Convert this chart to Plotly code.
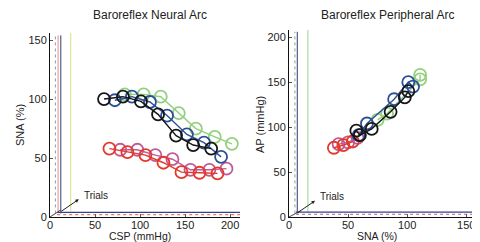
import plotly.graph_objects as go
from plotly.subplots import make_subplots

# ---- Left: Baroreflex Neural Arc (SNA vs CSP) ----
neural_black_csp = [60, 81, 101, 120, 140, 159, 179]
neural_black_sna = [100, 102, 98, 87, 69, 61, 58]
neural_blue_csp = [72, 91, 111, 130, 152, 171, 190]
neural_blue_sna = [99, 102, 97.5, 86, 70, 63, 51]
neural_green_csp = [83, 104, 123, 143, 162, 183, 202]
neural_green_sna = [104, 104, 102, 88, 75, 68, 62]
neural_red_csp = [66, 86, 106, 126, 146, 166, 186]
neural_red_sna = [58, 55, 52.5, 46, 38, 37.5, 37]
neural_mag_csp = [78, 97, 117, 136, 156, 177, 196]
neural_mag_sna = [57, 57, 52.5, 49, 40, 40, 41]

# ---- Right: Baroreflex Peripheral Arc (AP vs SNA) ----
periph_red_sna = [38, 46, 54]
periph_red_ap = [77, 80, 84]
periph_mag_sna = [42, 50, 58]
periph_mag_ap = [81, 83, 88]
periph_green_sna = [75, 83, 111, 111]
periph_green_ap = [108, 115, 153, 158]
periph_blue_sna = [59, 66, 89, 101, 105]
periph_blue_ap = [91, 104, 131, 150, 145]
periph_black_sna = [57, 60, 70, 86, 98, 101]
periph_black_ap = [96, 91, 98, 117, 133, 140]

C_BLACK = "#151515"
C_BLUE = "#2d4f98"
C_GREEN = "#93d07e"
C_RED = "#e2392b"
C_MAG = "#c05a95"

fig = make_subplots(rows=1, cols=2)


def add_series(x, y, color, col):
    fig.add_trace(go.Scatter(
        x=x, y=y, mode="lines+markers",
        line=dict(color=color, width=1.4),
        marker=dict(symbol="circle-open", size=12, color=color, line=dict(width=1.8, color=color)),
        showlegend=False, cliponaxis=False), row=1, col=col)


add_series(neural_green_csp, neural_green_sna, C_GREEN, 1)
add_series(neural_mag_csp, neural_mag_sna, C_MAG, 1)
add_series(neural_blue_csp, neural_blue_sna, C_BLUE, 1)
add_series(neural_red_csp, neural_red_sna, C_RED, 1)
add_series(neural_black_csp, neural_black_sna, C_BLACK, 1)

add_series(periph_green_sna, periph_green_ap, C_GREEN, 2)
add_series(periph_mag_sna, periph_mag_ap, C_MAG, 2)
add_series(periph_red_sna, periph_red_ap, C_RED, 2)
add_series(periph_blue_sna, periph_blue_ap, C_BLUE, 2)
add_series(periph_black_sna, periph_black_ap, C_BLACK, 2)

W, H = 472, 234   # page body adds an 8px offset
OFF = 8
font = dict(family="Liberation Sans, Arial, sans-serif", size=11, color="#222")


def fx(px):
    return (px - OFF) / W


def fy(py):
    return 1 - (py - OFF) / H


axis_common = dict(showline=True, linecolor="#111", linewidth=1, showgrid=False,
                   zeroline=False, ticks="inside", ticklen=3, tickcolor="#555",
                   tickfont=font, automargin=False)

fig.update_xaxes(axis_common)
fig.update_yaxes(axis_common)
fig.update_xaxes(ticklabelstandoff=-2)
fig.update_xaxes(range=[0, 211], tickvals=[0, 50, 100, 150, 200],
                 domain=[fx(50), fx(240)], row=1, col=1)
fig.update_yaxes(range=[0, 156], tickvals=[0, 50, 100, 150],
                 domain=[fy(217), fy(33)], row=1, col=1)
fig.update_xaxes(range=[0, 160], tickvals=[0, 50, 100, 150],
                 domain=[fx(289), fx(478)], row=1, col=2)
fig.update_yaxes(range=[0, 208], tickvals=[0, 50, 100, 150, 200],
                 domain=[fy(217), fy(30)], row=1, col=2)

shapes = []


def vline(xr, yr, x, y0, y1, color, dash="solid", w=1):
    shapes.append(dict(type="line", xref=xr, yref=yr, x0=x, x1=x, y0=y0, y1=y1,
                       line=dict(color=color, width=w, dash=dash), layer="below"))


def hline(xr, yr, y, x0, x1, color, dash="solid", w=1):
    shapes.append(dict(type="line", xref=xr, yref=yr, x0=x0, x1=x1, y0=y, y1=y,
                       line=dict(color=color, width=w, dash=dash), layer="below"))


# left faux-3D trial planes
vline("x", "y", 6, 3, 154, "#999", "dot")
vline("x", "y", 9, 3, 154, "#e58a8a")
vline("x", "y", 12, 3, 154, "#30406e")
vline("x", "y", 23, 5, 156, "#d9e08a")
hline("x", "y", 4, 8, 211, "#3b3f8a", w=1.2)
hline("x", "y", 2, 8, 211, "#e07a6a", "dot", w=1.2)
shapes.append(dict(type="line", xref="x", yref="y", x0=0, y0=0, x1=12, y1=6,
                   line=dict(color="#444", width=1)))
# right faux-3D trial planes
vline("x2", "y2", 5, 4, 206, "#999", "dot")
vline("x2", "y2", 7, 4, 206, "#2b3c78")
vline("x2", "y2", 16, 5, 208, "#8fd88f")
hline("x2", "y2", 5.5, 6, 160, "#3b3f8a", w=1.2)
hline("x2", "y2", 3, 6, 160, "#c97aa0", "dot", w=1.2)
shapes.append(dict(type="line", xref="x2", yref="y2", x0=0, y0=0, x1=10, y1=7,
                   line=dict(color="#444", width=1)))


def ann(text, px, py, **kw):
    d = dict(text=text, x=fx(px), y=fy(py), xref="paper", yref="paper",
             xanchor="center", yanchor="middle", showarrow=False, font=font)
    d.update(kw)
    return d


title_font = dict(family=font["family"], size=12, color="#222")
small_font = dict(family=font["family"], size=10, color="#222")
xtitle_font = dict(family=font["family"], size=10.5, color="#222")


def trials(xr, yr, tipx, tipy, tx, ty):
    return [
        dict(text="", x=tipx, y=tipy, xref=xr, yref=yr, showarrow=True,
             ax=-19, ay=13, arrowhead=2, arrowsize=0.7, arrowwidth=1,
             arrowcolor="#222", standoff=0),
        dict(text="Trials", x=tx, y=ty, xref=xr, yref=yr, xanchor="left",
             yanchor="middle", showarrow=False, font=small_font),
    ]


annotations = [
    ann("Baroreflex Neural Arc", 150, 15, font=title_font),
    ann("Baroreflex Peripheral Arc", 387, 15, font=title_font),
    ann("CSP (mmHg)", 140, 236, font=xtitle_font),
    ann("SNA (%)", 377, 236, font=xtitle_font),
    ann("SNA (%)", 20, 125, textangle=-90),
    ann("AP (mmHg)", 260, 125, textangle=-90),
]
annotations += trials("x", "y", 32, 15, 35, 18)
annotations += trials("x2", "y2", 22, 18, 24.5, 22.5)

fig.update_layout(width=W, height=H, margin=dict(l=0, r=0, t=0, b=0, pad=0),
                  autosize=False,
                  paper_bgcolor="white", plot_bgcolor="white",
                  shapes=shapes, annotations=annotations, showlegend=False)

fig.write_html("out.html", config={"responsive": False})
